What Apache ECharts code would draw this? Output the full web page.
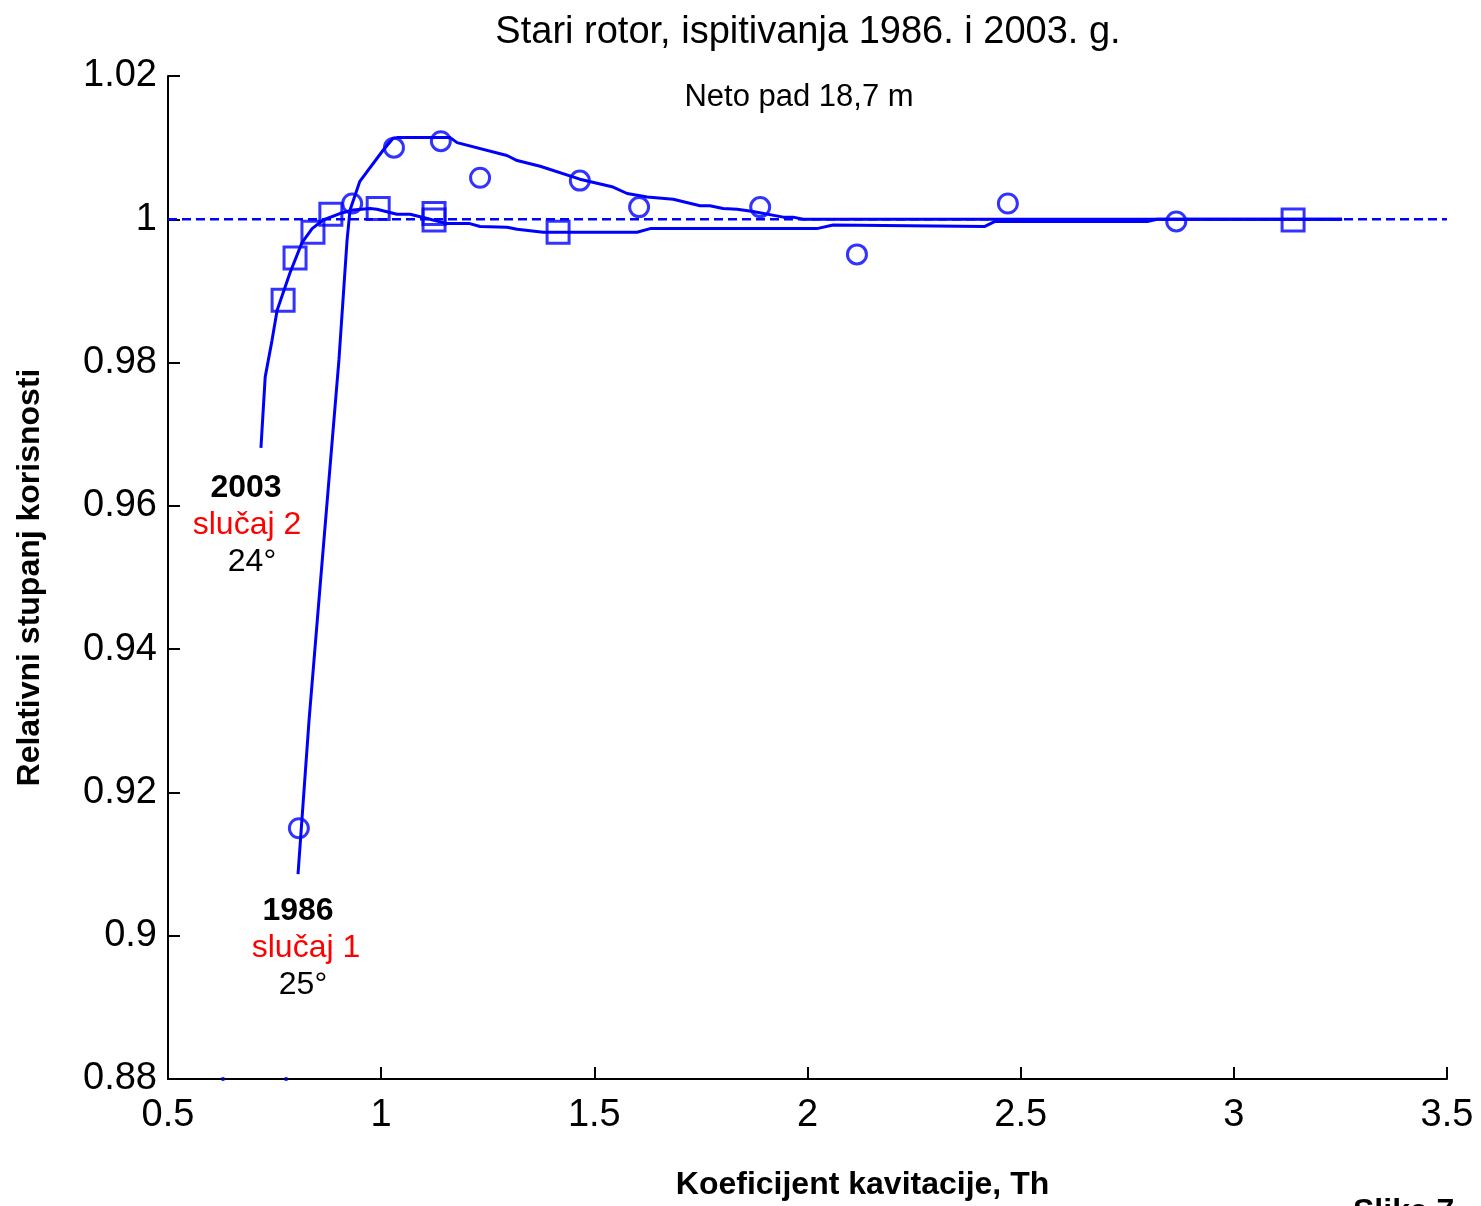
<!DOCTYPE html>
<html><head><meta charset="utf-8">
<script src="https://cdn.jsdelivr.net/npm/echarts@6/dist/echarts.min.js"></script>
<style>html,body{margin:0;padding:0;background:#fff;overflow:hidden}#c{width:1481px;height:1206px}</style>
</head><body><div id="c"></div>
<script>
// 1986 (slučaj 1) measured points (circles)
const pts1986 = [[0.807,0.9150],[0.932,1.0022],[1.030,1.0100],[1.140,1.0109],[1.232,1.0058],[1.466,1.0054],[1.605,1.0017],[1.889,1.0017],[2.116,0.9951],[2.470,1.0022],[2.865,0.9997]];
// 2003 (slučaj 2) measured points (squares)
const pts2003 = [[0.770,0.9887],[0.798,0.9946],[0.840,0.9982],[0.882,1.0007],[0.993,1.0015],[1.124,1.0008],[1.124,0.9999],[1.415,0.9982],[3.139,0.9999]];
// fitted curve 1986
const curve1986 = [[0.805,0.9086],[0.831,0.9302],[0.859,0.9504],[0.901,0.9804],[0.920,0.9971],[0.927,1.0013],[0.950,1.0053],[1.004,1.0096],[1.028,1.0113],[1.037,1.0114],[1.162,1.0114],[1.178,1.0107],[1.295,1.0089],[1.319,1.0082],[1.373,1.0074],[1.466,1.0056],[1.544,1.0045],[1.577,1.0036],[1.624,1.0031],[1.685,1.0028],[1.748,1.0019],[1.771,1.0019],[1.802,1.0015],[1.835,1.0014],[1.872,1.0011],[1.943,1.0003],[1.966,1.0003],[1.990,1.0000],[3.254,1.0000]];
// fitted curve 2003
const curve2003 = [[0.718,0.9681],[0.728,0.9780],[0.744,0.9831],[0.756,0.9873],[0.786,0.9925],[0.814,0.9967],[0.838,0.9987],[0.864,0.9999],[0.903,1.0008],[0.934,1.0013],[0.974,1.0015],[0.990,1.0014],[1.037,1.0007],[1.068,1.0007],[1.108,1.0001],[1.154,0.9994],[1.208,0.9994],[1.232,0.9990],[1.295,0.9989],[1.319,0.9986],[1.380,0.9982],[1.600,0.9982],[1.631,0.9987],[2.022,0.9987],[2.060,0.9992],[2.416,0.9990],[2.440,0.9997],[2.797,0.9997],[2.820,1.0000],[3.254,1.0000]];
// reference line at relative efficiency 1
const refLine = [[0.5,1],[3.5,1]];
// small blue marks on the x axis
const axisMarks = [[0.629,0.88],[0.777,0.88]];

const BLUE = '#0000ff';
const FONT = 'Arial, "Liberation Sans", sans-serif';
const fmt = v => String(+(+v).toFixed(2));

const chart = echarts.init(document.getElementById('c'), null, {renderer:'canvas'});
chart.setOption({
  backgroundColor:'#fff',
  animation:false,
  grid:{left:168, right:34, top:76, bottom:123, containLabel:false},
  xAxis:{type:'value', min:0.5, max:3.5, interval:0.5,
    axisLine:{show:true, lineStyle:{color:'#000', width:2}},
    axisTick:{show:true, inside:true, length:12, lineStyle:{color:'#000', width:2}},
    axisLabel:{formatter:fmt, color:'#000', fontSize:38, fontFamily:FONT, margin:18},
    splitLine:{show:false},
    name:'Koeficijent kavitacije, Th', nameLocation:'middle', nameGap:90,
    nameTextStyle:{color:'#000', fontSize:32, fontWeight:'bold', fontFamily:FONT, padding:[0,0,0,110]}
  },
  yAxis:{type:'value', min:0.88, max:1.02, interval:0.02,
    axisLine:{show:true, lineStyle:{color:'#000', width:2}},
    axisTick:{show:true, inside:true, length:12, lineStyle:{color:'#000', width:2}},
    axisLabel:{formatter:fmt, color:'#000', fontSize:38, fontFamily:FONT, margin:11},
    splitLine:{show:false},
    name:'Relativni stupanj korisnosti', nameLocation:'middle', nameGap:122, nameRotate:90,
    nameTextStyle:{color:'#000', fontSize:32, fontWeight:'bold', fontFamily:FONT}
  },
  title:[
    {text:'Stari rotor, ispitivanja 1986. i 2003. g.', left:803, top:9, textAlign:'center',
      textStyle:{color:'#000', fontSize:38, fontWeight:'normal', fontFamily:FONT}},
    {text:'Neto pad 18,7 m', left:794, top:77, textAlign:'center',
      textStyle:{color:'#000', fontSize:31, fontWeight:'normal', fontFamily:FONT}}
  ],
  series:[
    {type:'line', data:refLine, symbol:'none', silent:true,
      lineStyle:{color:BLUE, width:2.5, type:[9,5]}},
    {type:'line', data:curve1986, symbol:'none', silent:true,
      lineStyle:{color:BLUE, width:3}},
    {type:'line', data:curve2003, symbol:'none', silent:true,
      lineStyle:{color:BLUE, width:3}},
    {type:'scatter', data:pts1986, symbol:'circle', symbolSize:19,
      itemStyle:{color:'rgba(0,0,0,0)', borderColor:BLUE, borderWidth:3}},
    {type:'scatter', data:pts2003, symbol:'rect', symbolSize:22,
      itemStyle:{color:'rgba(0,0,0,0)', borderColor:BLUE, borderWidth:3}},
    {type:'scatter', data:axisMarks, symbol:'rect', symbolSize:[3,4],
      itemStyle:{color:BLUE}}
  ],
  graphic:[
    {type:'text', x:246, y:488, style:{text:'2003', fill:'#000', font:'bold 32px '+FONT, textAlign:'center', textVerticalAlign:'middle'}},
    {type:'text', x:247, y:525, style:{text:'slučaj 2', fill:'#ff0000', font:'32px '+FONT, textAlign:'center', textVerticalAlign:'middle'}},
    {type:'text', x:252, y:562, style:{text:'24°', fill:'#000', font:'32px '+FONT, textAlign:'center', textVerticalAlign:'middle'}},
    {type:'text', x:298, y:911, style:{text:'1986', fill:'#000', font:'bold 32px '+FONT, textAlign:'center', textVerticalAlign:'middle'}},
    {type:'text', x:306, y:948, style:{text:'slučaj 1', fill:'#ff0000', font:'32px '+FONT, textAlign:'center', textVerticalAlign:'middle'}},
    {type:'text', x:303, y:985, style:{text:'25°', fill:'#000', font:'32px '+FONT, textAlign:'center', textVerticalAlign:'middle'}},
    {type:'text', x:1353, y:1196, style:{text:'Slika 7', fill:'#000', font:'bold 32px '+FONT, textAlign:'left', textVerticalAlign:'top'}}
  ]
});
</script></body></html>
